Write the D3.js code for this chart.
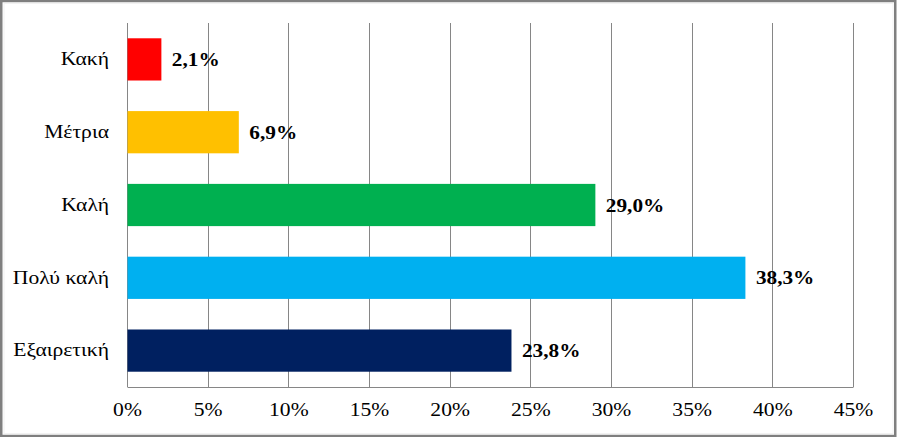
<!DOCTYPE html>
<html><head><meta charset="utf-8">
<script src="https://cdn.jsdelivr.net/npm/d3@7"></script>
<style>html,body{margin:0;padding:0;background:#fff;}svg{display:block;}
text{font-family:"Liberation Serif", serif;}</style>
</head><body>
<svg id="c" width="897" height="437"></svg>
<script>
const categories = ["Κακή", "Μέτρια", "Καλή", "Πολύ καλή", "Εξαιρετική"];
const values = [2.1, 6.9, 29.0, 38.3, 23.8];
const colors = ["#FF0000", "#FFC000", "#00B050", "#00B0F0", "#002060"];
const tickValues = [0, 5, 10, 15, 20, 25, 30, 35, 40, 45];

const svg = d3.select("#c");
const W = 897, H = 437;
const m = {left: 127, right: 897 - 853, top: 23, bottom: 437 - 387};
const font = "Liberation Serif";
const sReg = 1.2, sBold = 1.12;

// outer frame
svg.append("rect").attr("x", 0).attr("y", 0).attr("width", W).attr("height", H).attr("fill", "#fff");
svg.append("rect").attr("x", 4).attr("y", 3.5).attr("width", W - 8).attr("height", H - 7)
  .attr("fill", "none").attr("stroke", "#f2f2f2").attr("stroke-width", 1);
svg.append("rect").attr("x", 1.25).attr("y", 1).attr("width", W - 3).attr("height", H - 2)
  .attr("fill", "none").attr("stroke", "#7f7f7f").attr("stroke-width", 2.5);

const x = d3.scaleLinear().domain([0, 45]).range([m.left, W - m.right]);
const y = d3.scaleBand().domain(categories).range([m.top, H - m.bottom]).paddingInner(0.42).paddingOuter(0.21);

// gridlines
svg.append("g").selectAll("line").data(tickValues).join("line")
  .attr("x1", d => Math.round(x(d)) + 0.5).attr("x2", d => Math.round(x(d)) + 0.5)
  .attr("y1", m.top).attr("y2", H - m.bottom)
  .attr("stroke", "#868686").attr("stroke-width", 1);

// bottom axis
const xAxis = d3.axisBottom(x).tickValues(tickValues).tickFormat(d => d + "%").tickSize(0).tickPadding(16);
const gx = svg.append("g").attr("transform", `translate(0,${H - m.bottom + 0.5})`).call(xAxis);
gx.attr("font-family", null).attr("font-size", null);
gx.select(".domain").attr("stroke", "#868686").attr("d", `M${m.left + 0.5},0H${Math.round(x(45)) + 0.5}`);
gx.selectAll("text").style("font-family", font).style("font-size", "18px").attr("fill", "#000")
  .attr("transform", `scale(${sReg},1)`);

// bars
svg.append("g").selectAll("rect").data(values).join("rect")
  .attr("x", x(0) + 0.5)
  .attr("y", (d, i) => y(categories[i]))
  .attr("width", d => x(d) - x(0))
  .attr("height", y.bandwidth())
  .attr("fill", (d, i) => colors[i]);

// category labels
const yAxis = d3.axisLeft(y).tickSize(0).tickPadding(18);
const gy = svg.append("g").attr("transform", `translate(${m.left},0)`).call(yAxis);
gy.attr("font-family", null).attr("font-size", null);
gy.select(".domain").remove();
gy.selectAll("text").style("font-family", font).style("font-size", "18px").attr("fill", "#000")
  .attr("x", -18 / sReg).attr("transform", `scale(${sReg},1)`);

// value labels
svg.append("g").selectAll("text").data(values).join("text")
  .attr("x", d => (x(d) + 11) / sBold)
  .attr("y", (d, i) => y(categories[i]) + y.bandwidth() / 2)
  .attr("dy", "0.35em")
  .attr("transform", `scale(${sBold},1)`)
  .style("font-family", font).style("font-size", "19px").attr("font-weight", "bold")
  .text(d => d.toFixed(1).replace(".", ",") + "%");
</script>
</body></html>
